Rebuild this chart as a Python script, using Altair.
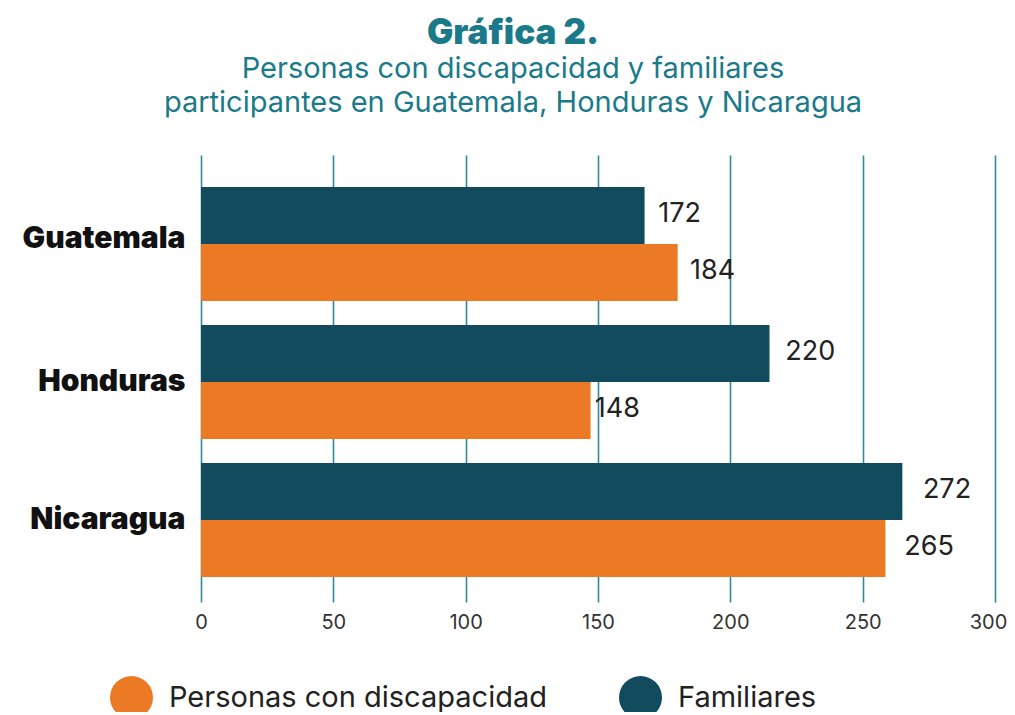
import altair as alt
import pandas as pd

countries = ["Guatemala", "Honduras", "Nicaragua"]
series_names = ["Personas con discapacidad", "Familiares"]
# printed values
personas_labels = [184, 148, 265]
familiares_labels = [172, 220, 272]
# bar lengths as drawn in the picture
personas_bars = [180.1, 147.2, 258.6]
familiares_bars = [167.6, 214.8, 265.0]
x_ticks = [0, 50, 100, 150, 200, 250, 300]

ORANGE = "#EC7A24"
DARK = "#124A5E"
TEAL = "#1B7A8A"
GRID = "#2F8A9B"

rows = []
for i, c in enumerate(countries):
    rows.append({"country": c, "serie": series_names[0], "bar": personas_bars[i], "label": personas_labels[i]})
    rows.append({"country": c, "serie": series_names[1], "bar": familiares_bars[i], "label": familiares_labels[i]})
df = pd.DataFrame(rows)

yenc = alt.Y("country:N", sort=countries, title=None,
             scale=alt.Scale(paddingInner=0.174, paddingOuter=0.2065, align=0.56),
             axis=alt.Axis(domain=False, ticks=False, labelFont="Inter", labelFontWeight=900,
                           labelFontSize=30, labelColor="#111111", labelPadding=16,
                           labelOffset={"condition": {"test": "datum.value === 'Guatemala'", "value": -5}, "value": 0}))
yoff = alt.YOffset("serie:N", sort=["Familiares", "Personas con discapacidad"],
                   scale=alt.Scale(paddingInner=0, paddingOuter=0))

bars = alt.Chart(df).mark_bar(opacity=1).encode(
    x=alt.X("bar:Q", title=None,
            scale=alt.Scale(domain=[0, 300], nice=False),
            axis=alt.Axis(values=x_ticks, domain=False, ticks=False, grid=True,
                          gridColor=GRID, gridWidth=1.6, labelFont="Inter", labelFlush=False,
                          labelFontSize=20, labelColor="#333333", labelPadding=10,
                          labelOffset={"condition": {"test": "datum.value === 300", "value": -7}, "value": 0})),
    y=yenc,
    yOffset=yoff,
    color=alt.Color("serie:N", sort=series_names,
                    scale=alt.Scale(domain=series_names, range=[ORANGE, DARK]),
                    legend=alt.Legend(title=None, orient="none", direction="horizontal",
                                      legendX=-91, legendY=521, padding=0,
                                      symbolType="circle", symbolSize=1849,
                                      symbolStrokeWidth=0, symbolOpacity=1,
                                      labelFont="Inter", labelFontSize=29,
                                      labelColor="#222222", labelOffset=16,
                                      columnPadding=72, labelLimit=600)),
)

labels = alt.Chart(df).mark_text(align="left", baseline="middle", dx=2, dy=-1,
                                 font="Inter", fontSize=27, color="#222222").encode(
    x=alt.X("label:Q"),
    y=yenc,
    yOffset=yoff,
    text=alt.Text("label:Q"),
)

chart = alt.layer(bars, labels).properties(
    width=794, height=447,
    autosize=alt.AutoSizeParams(type="none"),
    padding={"left": 193, "top": 147, "right": 12, "bottom": 110},
    title=alt.Title(
        text="Gráfica 2.",
        subtitle=["Personas con discapacidad y familiares",
                  "participantes en Guatemala, Honduras y Nicaragua"],
        anchor="middle", dx=-85, offset=37,
        font="Inter", fontSize=35, fontWeight=900, color=TEAL,
        subtitleFont="Inter", subtitleFontSize=29, subtitleColor=TEAL,
        subtitleLineHeight=34, subtitlePadding=4,
    ),
).configure_view(stroke=None)

chart.save("out.html", embed_options={"renderer": "svg", "actions": False})
